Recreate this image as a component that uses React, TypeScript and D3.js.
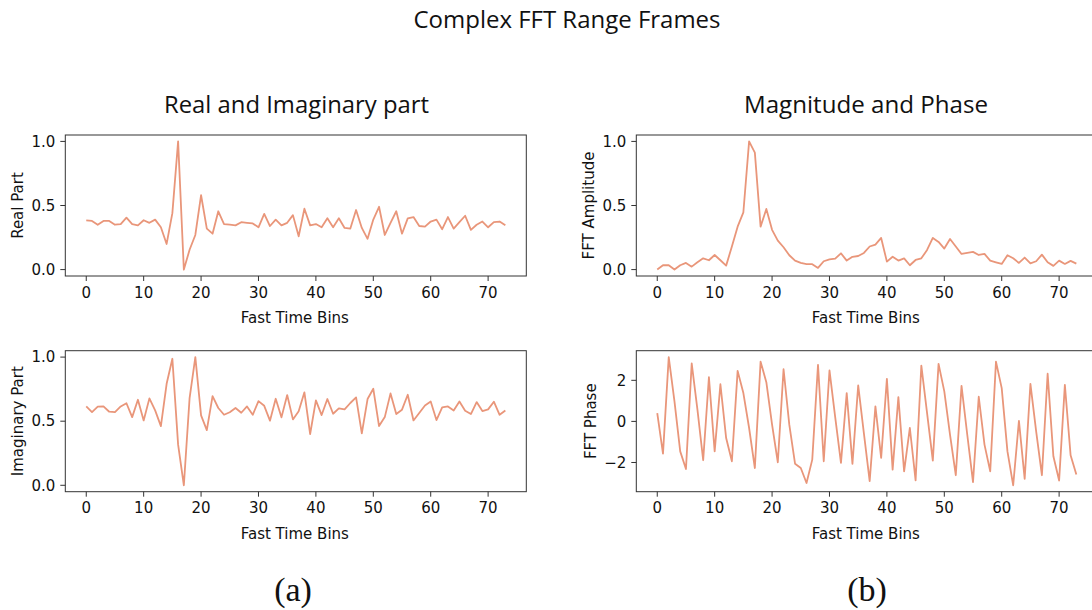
import React from "react";
import * as d3 from "d3";

const realPart = [0.384, 0.38, 0.35, 0.38, 0.38, 0.35, 0.355, 0.405, 0.355, 0.345, 0.385, 0.365, 0.39, 0.33, 0.2, 0.44, 1.0, 0.0, 0.155, 0.27, 0.58, 0.32, 0.28, 0.455, 0.355, 0.35, 0.345, 0.37, 0.365, 0.36, 0.33, 0.435, 0.34, 0.39, 0.345, 0.365, 0.425, 0.26, 0.475, 0.345, 0.355, 0.33, 0.4, 0.33, 0.4, 0.325, 0.32, 0.465, 0.325, 0.24, 0.39, 0.49, 0.27, 0.365, 0.455, 0.28, 0.4, 0.41, 0.34, 0.335, 0.375, 0.39, 0.315, 0.41, 0.32, 0.37, 0.42, 0.31, 0.35, 0.375, 0.33, 0.37, 0.375, 0.345];

const imagPart = [0.615, 0.571, 0.613, 0.615, 0.574, 0.571, 0.615, 0.64, 0.532, 0.667, 0.506, 0.678, 0.584, 0.462, 0.792, 0.987, 0.317, 0.0, 0.68, 1.0, 0.545, 0.43, 0.696, 0.603, 0.55, 0.57, 0.603, 0.566, 0.615, 0.55, 0.657, 0.62, 0.504, 0.675, 0.53, 0.704, 0.514, 0.577, 0.725, 0.4, 0.662, 0.548, 0.673, 0.558, 0.6, 0.592, 0.642, 0.686, 0.405, 0.673, 0.753, 0.462, 0.532, 0.717, 0.556, 0.59, 0.706, 0.506, 0.564, 0.623, 0.654, 0.509, 0.608, 0.615, 0.584, 0.654, 0.582, 0.556, 0.649, 0.579, 0.592, 0.652, 0.55, 0.584];

const fftAmplitude = [0.0, 0.034, 0.034, 0.0, 0.034, 0.052, 0.023, 0.057, 0.088, 0.073, 0.114, 0.073, 0.031, 0.18, 0.335, 0.447, 1.0, 0.912, 0.335, 0.473, 0.31, 0.226, 0.174, 0.112, 0.07, 0.052, 0.042, 0.042, 0.013, 0.065, 0.08, 0.086, 0.127, 0.07, 0.1, 0.106, 0.13, 0.18, 0.195, 0.247, 0.062, 0.1, 0.07, 0.088, 0.034, 0.075, 0.088, 0.153, 0.247, 0.216, 0.164, 0.239, 0.18, 0.122, 0.13, 0.138, 0.114, 0.122, 0.07, 0.057, 0.044, 0.112, 0.088, 0.052, 0.094, 0.049, 0.065, 0.117, 0.057, 0.029, 0.07, 0.044, 0.068, 0.047];

const fftPhase = [0.4, -1.57, 3.13, 0.97, -1.46, -2.32, 2.82, 0.57, -1.89, 2.15, -1.46, 1.81, -0.81, -1.94, 2.46, 1.38, -0.32, -2.27, 2.91, 1.91, -0.16, -1.99, 2.54, -0.16, -2.06, -2.27, -3.0, -1.86, 2.75, -1.94, 2.48, 0.2, -2.02, 1.38, -2.07, 1.75, -0.6, -2.91, 0.73, -1.78, 2.07, -2.35, 1.18, -2.43, -0.32, -2.87, 2.72, 0.4, -1.91, 2.8, 1.46, -0.65, -2.62, 1.73, -0.65, -2.96, 1.2, -1.13, -2.43, 2.91, 1.62, -1.46, -3.11, 0.03, -2.8, 1.83, -0.49, -2.62, 2.32, -1.7, -2.88, 1.78, -1.65, -2.59];

const xTicks = [0, 10, 20, 30, 40, 50, 60, 70];
const unitTicks = [0, 0.5, 1.0];
const phaseTicks = [-2, 0, 2];

const mainTitle = "Complex FFT Range Frames";
const leftTitle = "Real and Imaginary part";
const rightTitle = "Magnitude and Phase";
const xLabel = "Fast Time Bins";

const LINE = "#e9967a";
const SPINE = "#333";
const SANS = "'DejaVu Sans', sans-serif";
const TITLE_FONT = "'Open Sans', sans-serif";

type PanelProps = {
  left: number;
  top: number;
  data: number[];
  yTicks: number[];
  yFormat: (v: number) => string;
  yLabel: string;
  yLabelX: number;
};

const W = 461;
const H = 141;

function Panel({ left, top, data, yTicks, yFormat, yLabel, yLabelX }: PanelProps) {
  const n = data.length;
  const xPad = (n - 1) * 0.05;
  const x = d3.scaleLinear().domain([-xPad, n - 1 + xPad]).range([0, W]);
  const [mn, mx] = d3.extent(data) as [number, number];
  const yPad = (mx - mn) * 0.05;
  const y = d3.scaleLinear().domain([mn - yPad, mx + yPad]).range([H, 0]);
  const line = d3
    .line<number>()
    .x((_, i) => x(i))
    .y((d) => y(d));
  return (
    <g transform={`translate(${left},${top})`}>
      <path d={line(data) || ""} fill="none" stroke={LINE} strokeWidth={1.8} strokeLinejoin="round" />
      <rect x={0} y={0} width={W} height={H} fill="none" stroke={SPINE} strokeWidth={1} />
      {xTicks.map((t) => (
        <g key={"x" + t} transform={`translate(${x(t)},${H})`}>
          <line y1={0} y2={5} stroke={SPINE} strokeWidth={1} />
          <text y={21.5} textAnchor="middle" fontFamily={SANS} fontSize={15} fill="#111">
            {t}
          </text>
        </g>
      ))}
      {yTicks.map((t) => (
        <g key={"y" + t} transform={`translate(0,${y(t)})`}>
          <line x1={0} x2={-5} stroke={SPINE} strokeWidth={1} />
          <text x={-10} dy="0.35em" textAnchor="end" fontFamily={SANS} fontSize={15} fill="#111">
            {yFormat(t)}
          </text>
        </g>
      ))}
      <text x={W / 2 - 1} y={H + 47} textAnchor="middle" fontFamily={SANS} fontSize={15} fill="#111">
        {xLabel}
      </text>
      <text
        transform={`translate(${yLabelX},${H / 2}) rotate(-90)`}
        textAnchor="middle"
        dy="0.35em"
        fontFamily={SANS}
        fontSize={15}
        fill="#111"
      >
        {yLabel}
      </text>
    </g>
  );
}

const fmt1 = d3.format(".1f");
const fmtPhase = (v: number) => (v < 0 ? "\u2212" + Math.abs(v) : String(v));

export default function App() {
  return (
    <div style={{ position: "absolute", left: 0, top: 0, width: 1092, height: 610, background: "#fff", overflow: "hidden" }}>
      <svg width={1092} height={610} viewBox="0 0 1092 610" style={{ display: "block" }}>
        <rect width={1092} height={610} fill="#fff" />
        <text x={567} y={27.5} textAnchor="middle" fontFamily={TITLE_FONT} fontSize={24} fill="#111" textLength={307} lengthAdjust="spacingAndGlyphs">
          {mainTitle}
        </text>
        <text x={296.5} y={113} textAnchor="middle" fontFamily={TITLE_FONT} fontSize={23} fill="#111" textLength={265} lengthAdjust="spacingAndGlyphs">
          {leftTitle}
        </text>
        <text x={866} y={113} textAnchor="middle" fontFamily={TITLE_FONT} fontSize={23} fill="#111" textLength={244} lengthAdjust="spacingAndGlyphs">
          {rightTitle}
        </text>
        <Panel left={65.3} top={135} data={realPart} yTicks={unitTicks} yFormat={fmt1} yLabel="Real Part" yLabelX={-48} />
        <Panel left={65.3} top={350.7} data={imagPart} yTicks={unitTicks} yFormat={fmt1} yLabel="Imaginary Part" yLabelX={-48} />
        <Panel left={636.3} top={135} data={fftAmplitude} yTicks={unitTicks} yFormat={fmt1} yLabel="FFT Amplitude" yLabelX={-48} />
        <Panel left={636.3} top={350.7} data={fftPhase} yTicks={phaseTicks} yFormat={fmtPhase} yLabel="FFT Phase" yLabelX={-46} />
        <text x={293} y={601} textAnchor="middle" fontFamily="'Liberation Serif', serif" fontSize={34} fill="#111">
          (a)
        </text>
        <text x={867} y={601} textAnchor="middle" fontFamily="'Liberation Serif', serif" fontSize={34} fill="#111">
          (b)
        </text>
      </svg>
    </div>
  );
}
